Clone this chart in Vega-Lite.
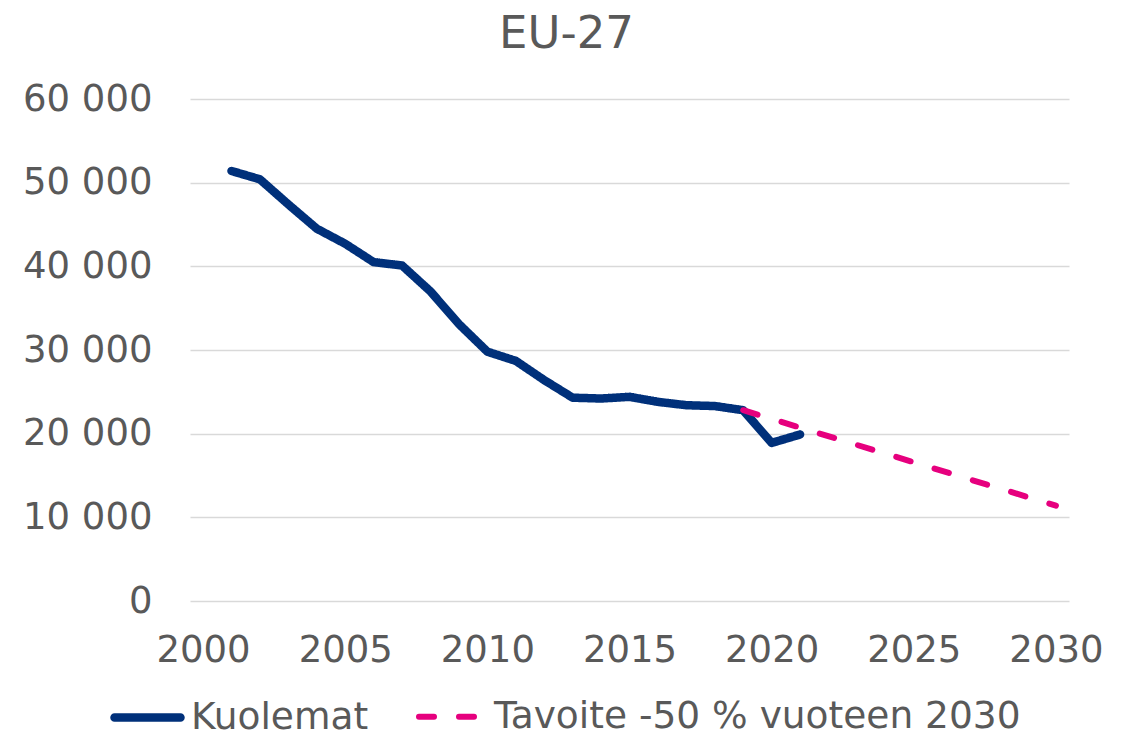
{
  "$schema": "https://vega.github.io/schema/vega-lite/v6.json",
  "autosize": {"type": "none"},
  "width": 879,
  "height": 502,
  "padding": {"left": 190, "top": 99, "right": 63, "bottom": 133},
  "background": "white",
  "config": {
    "font": "DejaVu Sans",
    "view": {"stroke": null}
  },
  "title": {
    "text": "EU-27",
    "fontSize": 45,
    "font": "DejaVu Sans",
    "fontWeight": "normal",
    "color": "#595959",
    "baseline": "alphabetic",
    "offset": -13,
    "dx": -63
  },
  "data": {
    "values": [
      {"year": 2001, "value": 51400, "series": "Kuolemat"},
      {"year": 2002, "value": 50400, "series": "Kuolemat"},
      {"year": 2003, "value": 47400, "series": "Kuolemat"},
      {"year": 2004, "value": 44500, "series": "Kuolemat"},
      {"year": 2005, "value": 42700, "series": "Kuolemat"},
      {"year": 2006, "value": 40500, "series": "Kuolemat"},
      {"year": 2007, "value": 40100, "series": "Kuolemat"},
      {"year": 2008, "value": 37000, "series": "Kuolemat"},
      {"year": 2009, "value": 33100, "series": "Kuolemat"},
      {"year": 2010, "value": 29800, "series": "Kuolemat"},
      {"year": 2011, "value": 28700, "series": "Kuolemat"},
      {"year": 2012, "value": 26400, "series": "Kuolemat"},
      {"year": 2013, "value": 24300, "series": "Kuolemat"},
      {"year": 2014, "value": 24200, "series": "Kuolemat"},
      {"year": 2015, "value": 24400, "series": "Kuolemat"},
      {"year": 2016, "value": 23800, "series": "Kuolemat"},
      {"year": 2017, "value": 23400, "series": "Kuolemat"},
      {"year": 2018, "value": 23300, "series": "Kuolemat"},
      {"year": 2019, "value": 22800, "series": "Kuolemat"},
      {"year": 2020, "value": 18900, "series": "Kuolemat"},
      {"year": 2021, "value": 19900, "series": "Kuolemat"},
      {"year": 2019, "value": 22800, "series": "Tavoite -50 % vuoteen 2030"},
      {"year": 2030, "value": 11400, "series": "Tavoite -50 % vuoteen 2030"}
    ]
  },
  "mark": {"type": "line", "strokeCap": "round", "strokeJoin": "round"},
  "encoding": {
    "x": {
      "field": "year",
      "type": "quantitative",
      "scale": {"domain": [1999.54, 2030.46], "nice": false, "zero": false},
      "axis": {
        "title": null,
        "values": [2000, 2005, 2010, 2015, 2020, 2025, 2030],
        "format": "d",
        "domain": false,
        "ticks": false,
        "grid": false,
        "labelFontSize": 37,
        "labelColor": "#595959",
        "labelPadding": 31,
        "labelFlush": false
      }
    },
    "y": {
      "field": "value",
      "type": "quantitative",
      "scale": {"domain": [0, 60000], "nice": false},
      "axis": {
        "title": null,
        "values": [0, 10000, 20000, 30000, 40000, 50000, 60000],
        "labelExpr": "replace(format(datum.value, ','), ',', ' ')",
        "domain": false,
        "ticks": false,
        "grid": true,
        "gridColor": "#D9D9D9",
        "gridWidth": 1.5,
        "labelFontSize": 37,
        "labelColor": "#595959",
        "labelPadding": 38
      }
    },
    "color": {
      "field": "series",
      "type": "nominal",
      "scale": {
        "domain": ["Kuolemat", "Tavoite -50 % vuoteen 2030"],
        "range": ["#00307A", "#E6007E"]
      },
      "legend": {
        "title": null,
        "orient": "none",
        "direction": "horizontal",
        "legendX": -80,
        "legendY": 581,
        "labelFontSize": 37.5,
        "labelColor": "#595959",
        "labelLimit": 0,
        "symbolType": "stroke",
        "symbolSize": 4356,
        "labelOffset": 6,
        "columnPadding": 38,
        "encode": {
          "symbols": {
            "update": {
              "strokeWidth": {"signal": "datum.value === 'Kuolemat' ? 9 : 5.5"},
              "strokeCap": {"value": "round"},
              "strokeDash": {"signal": "datum.value === 'Kuolemat' ? [1, 0] : [18, 23]"}
            }
          }
        }
      }
    },
    "strokeDash": {
      "field": "series",
      "type": "nominal",
      "scale": {
        "domain": ["Kuolemat", "Tavoite -50 % vuoteen 2030"],
        "range": [[1, 0], [15, 25]]
      },
      "legend": null
    },
    "strokeWidth": {
      "field": "series",
      "type": "nominal",
      "scale": {
        "domain": ["Kuolemat", "Tavoite -50 % vuoteen 2030"],
        "range": [8.5, 6]
      },
      "legend": null
    }
  }
}
